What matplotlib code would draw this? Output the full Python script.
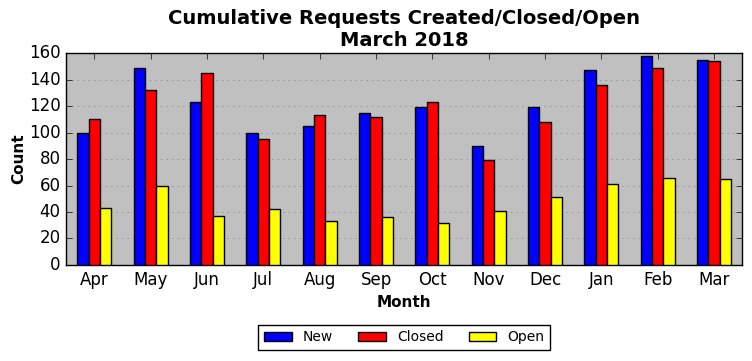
import numpy as np
import matplotlib
matplotlib.use("Agg")
import matplotlib.pyplot as plt

months = ["Apr", "May", "Jun", "Jul", "Aug", "Sep", "Oct", "Nov", "Dec", "Jan", "Feb", "Mar"]
new = [100, 149, 123, 100, 105, 115, 119, 90, 119, 147, 158, 155]
closed = [110, 132, 145, 95, 113, 112, 123, 79, 108, 136, 149, 154]
opened = [43, 60, 37, 42, 33, 36, 32, 41, 51, 61, 66, 65]

plt.style.use("classic")
fig, ax = plt.subplots(figsize=(7.52, 3.61), dpi=100)
fig.patch.set_facecolor("white")
ax.set_facecolor("#c0c0c0")

x = np.arange(len(months))
w = 0.2
ax.bar(x - w, new, w, color="blue", edgecolor="black", label="New", zorder=3)
ax.bar(x, closed, w, color="red", edgecolor="black", label="Closed", zorder=3)
ax.bar(x + w, opened, w, color="yellow", edgecolor="black", label="Open", zorder=3)

ax.set_xlim(-0.5, len(months) - 0.5)
ax.set_ylim(0, 160)
ax.set_xticks(x)
ax.set_xticklabels(months)
ax.set_yticks(range(0, 161, 20))
ax.tick_params(labelsize=12)
ax.yaxis.grid(True, linestyle=":", color="#808080", zorder=0)
ax.set_axisbelow(True)

ax.set_title("Cumulative Requests Created/Closed/Open\nMarch 2018", fontsize=14, fontweight="bold")
ax.set_xlabel("Month", fontsize=11, fontweight="bold")
ax.set_ylabel("Count", fontsize=11, fontweight="bold", labelpad=2)

ax.legend(loc="upper center", bbox_to_anchor=(0.5, -0.25), ncol=3, fontsize=10,
          frameon=True, columnspacing=1.8)

fig.subplots_adjust(left=0.088, right=0.987, top=0.853, bottom=0.266)
fig.savefig("out.png", dpi=100)
